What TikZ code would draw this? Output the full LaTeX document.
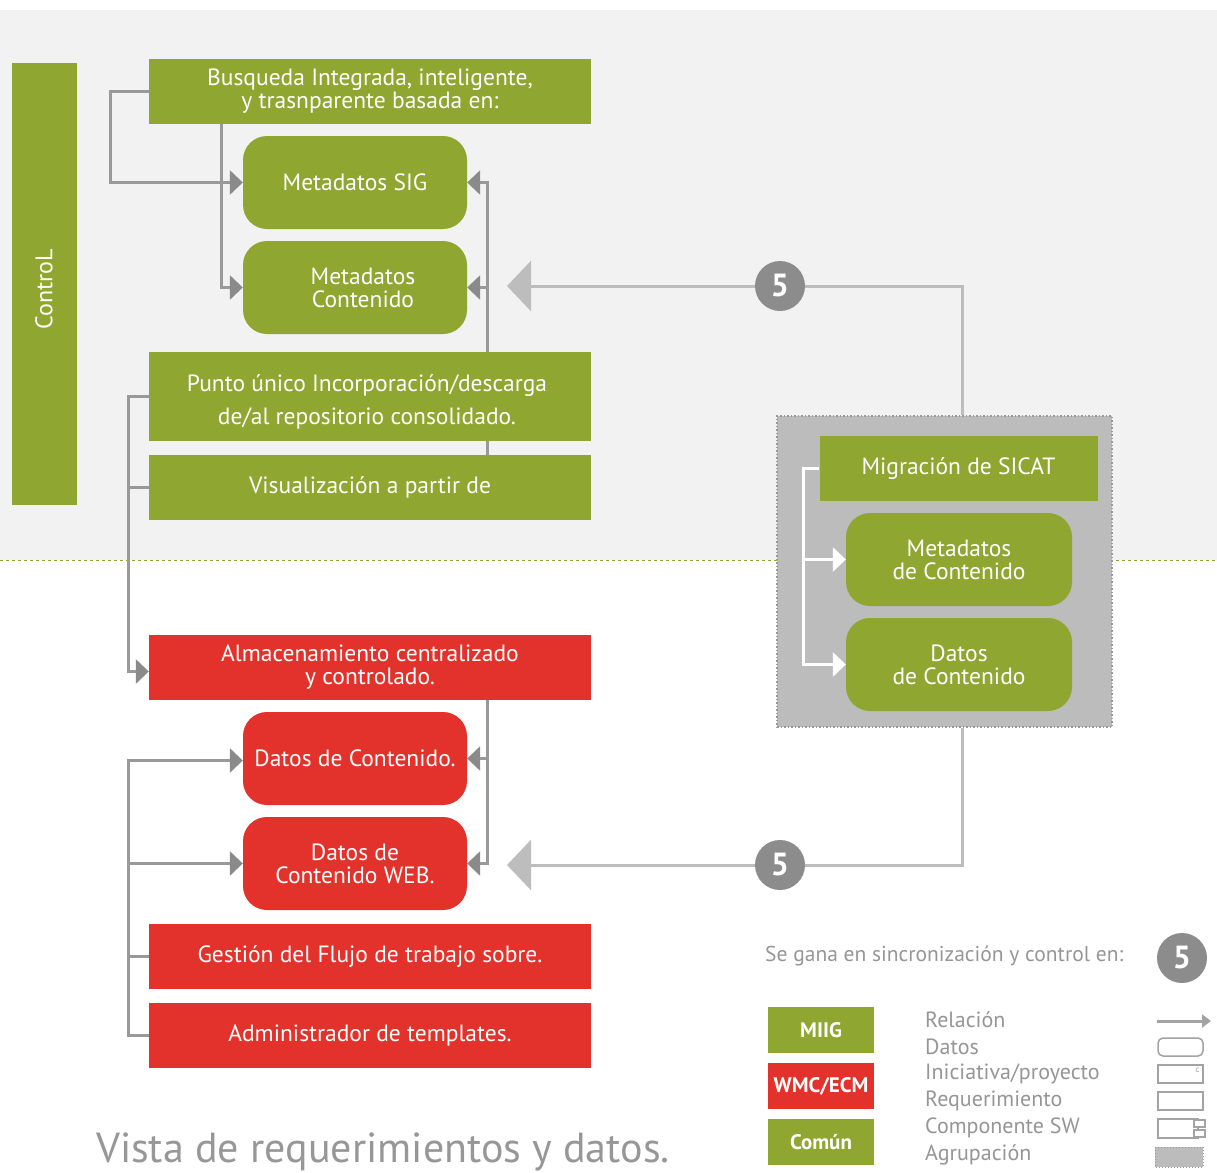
\documentclass[tikz,border=0pt]{standalone}
\usepackage{fontspec}
\setmainfont{PT Sans}
\usetikzlibrary{arrows.meta,calc}
\definecolor{mygreen}{HTML}{8FA731}
\definecolor{myred}{HTML}{E3322B}
\definecolor{bgg}{HTML}{F2F2F2}
\definecolor{conng}{HTML}{999999}
\definecolor{tipg}{HTML}{8A8A8A}
\definecolor{lightg}{HTML}{BDBDBD}
\definecolor{circg}{HTML}{8C8C8C}
\definecolor{grpg}{HTML}{BCBCBC}
\definecolor{txtg}{HTML}{969696}
\pgfdeclarelayer{bg}
\pgfdeclarelayer{conn}
\pgfsetlayers{bg,conn,main}
\newcommand{\fsz}[2]{\fontsize{#1}{#2}\selectfont}
\tikzset{
  box/.style={inner sep=0pt, align=center, text=white, font=\fsz{23.5}{23}},
  gbox/.style={box, fill=mygreen},
  rbox/.style={box, fill=myred},
  rgbox/.style={gbox, rounded corners=24pt},
  rrbox/.style={rbox, rounded corners=24pt},
  connline/.style={draw=conng, line width=3pt},
  darktip/.style={-{Triangle[length=13pt,width=24pt,color=tipg]}},
  whitetip/.style={draw=white, line width=3pt, -{Triangle[length=13pt,width=24pt,color=white]}},
  bigline/.style={draw=lightg, line width=3pt},
  bigtip/.style={-{Triangle[length=24pt,width=50pt,color=lightg]}},
  numcirc/.style={circle, fill=circg, minimum size=50pt, inner sep=0pt, text=white, font=\bfseries\fsz{32}{32}},
  legtxt/.style={inner sep=0pt, anchor=west, text=txtg, font=\fsz{22}{22}},
  legbox/.style={minimum width=106pt, minimum height=46pt, font=\bfseries\fsz{21}{22}},
  icon/.style={draw=circg!80, line width=1.5pt},
}
\begin{document}
\begin{tikzpicture}[x=1pt,y=-1pt]
\useasboundingbox (0,0) rectangle (1217,1172);
\begin{pgfonlayer}{bg}
  \fill[white] (0,0) rectangle (1217,1172);
  \fill[bgg] (0,10) rectangle (1217,560);
  \draw[mygreen, line width=1pt, dash pattern=on 3pt off 3pt] (0,560) -- (1217,560);
\end{pgfonlayer}

% Control bar
\node[gbox, minimum width=65pt, minimum height=442pt] (ctrl) at (44.5,284) {};
\node[text=white, font=\fsz{24}{24}, rotate=90, inner sep=0pt] (ctrltxt) at (44,289) {ControL};

% top green boxes
\node[gbox, minimum width=442pt, minimum height=65pt] (busq) at (370,91.5) {Busqueda Integrada, inteligente,\\ y trasnparente basada en:};
\node[rgbox, minimum width=224pt, minimum height=93pt] (sig) at (355,182.5) {Metadatos SIG};
\node[rgbox, minimum width=224pt, minimum height=93pt] (mc) at (355,287.5) {\hspace*{16pt}Metadatos\\\hspace*{16pt}Contenido};
\node[gbox, minimum width=442pt, minimum height=89pt] (punto) at (370,396.5) {};
\node[box, font=\fsz{23.5}{33}] (puntotxt) at (367,402) {Punto único Incorporación/descarga\\de/al repositorio consolidado.};
\node[gbox, minimum width=442pt, minimum height=65pt] (vis) at (370,487.5) {Visualización a partir de};

% red boxes
\node[rbox, minimum width=442pt, minimum height=65pt] (alm) at (370,667.5) {Almacenamiento centralizado\\y controlado.};
\node[rrbox, minimum width=224pt, minimum height=93pt] (dc) at (355,758.5) {Datos de Contenido.};
\node[rrbox, minimum width=224pt, minimum height=93pt] (web) at (355,863.5) {Datos de\\Contenido WEB.};
\node[rbox, minimum width=442pt, minimum height=65pt] (gest) at (370,956.5) {Gestión del Flujo de trabajo sobre.};
\node[rbox, minimum width=442pt, minimum height=65pt] (adm) at (370,1035.5) {Administrador de templates.};

% grouping
\node[fill=grpg, draw=conng, line width=1.5pt, dotted, minimum width=335pt, minimum height=311pt, inner sep=0pt] (grp) at (944.5,571.5) {};
\node[gbox, minimum width=278pt, minimum height=65pt] (mig) at (958.5,468.5) {Migración de SICAT};
\node[rgbox, minimum width=226pt, minimum height=93pt] (gmc) at (959,559.5) {Metadatos\\de Contenido};
\node[rgbox, minimum width=226pt, minimum height=93pt] (gdc) at (959,664.5) {Datos\\de Contenido};

% numbered circles
\node[numcirc] (c1) at (780,286) {5};
\node[numcirc] (c2) at (780,865) {5};

% coordinates
\coordinate (xl1) at (110,0);
\coordinate (xl2) at (221,0);
\coordinate (xl3) at (128,0);
\coordinate (xr) at (487,0);
\coordinate (xg) at (962,0);
\coordinate (xw) at (803,0);
\coordinate (t1) at (507,286);
\coordinate (t2) at (507,865);

\begin{pgfonlayer}{conn}
  % top left connectors
  \draw[connline, darktip] (busq.west) -| (xl1 |- sig.west) -- (sig.west);
  \draw[connline, darktip] (xl2 |- busq.south) |- (mc.west);
  % top right connector
  \draw[connline, darktip] (vis.north -| xr) |- (sig.east);
  \draw[connline, darktip] (xr |- mc.east) -- (mc.east);
  % left long connector
  \draw[connline] (vis.west) -- (xl3 |- vis.west);
  \draw[connline, darktip] (punto.west) -| ($(xl3 |- alm.west)+(0,4)$) -- ($(alm.west)+(0,4)$);
  % red right connector
  \draw[connline, darktip] (alm.south -| xr) |- (web.east);
  \draw[connline, darktip] (xr |- dc.east) -- (dc.east);
  % red left connector
  \draw[connline, darktip] (adm.west) -| ($(xl3 |- dc.west)+(0,2)$) -- ($(dc.west)+(0,2)$);
  \draw[connline, darktip] (xl3 |- web.west) -- (web.west);
  \draw[connline] (xl3 |- gest.west) -- (gest.west);
  % big light connectors
  \draw[bigline, bigtip] (c1.west) -- (t1);
  \draw[bigline] (c1.east) -| (xg |- grp.north);
  \draw[bigline, bigtip] (c2.west) -- (t2);
  \draw[bigline] (c2.east) -| (xg |- grp.south);
\end{pgfonlayer}

% white connectors inside grouping
\draw[whitetip] (mig.west) -| (xw |- gdc.west) -- (gdc.west);
\draw[whitetip] (xw |- gmc.west) -- (gmc.west);

% legend
\node[legtxt, font=\fsz{21.5}{22}] (sgtxt) at (765,956) {Se gana en sincronización y control en:};
\node[numcirc] (c3) at (1182,958) {5};
\node[gbox, legbox] (miig) at (821,1030) {MIIG};
\node[rbox, legbox] (wmc) at (821,1086) {WMC/ECM};
\node[gbox, legbox] (comun) at (821,1142) {Común};
\node[legtxt] (l1) at (925,1020) {Relación};
\node[legtxt] (l2) at (925,1047) {Datos};
\node[legtxt] (l3) at (925,1074) {Iniciativa/proyecto};
\node[legtxt] (l4) at (925,1101) {Requerimiento};
\node[legtxt] (l5) at (925,1128) {Componente SW};
\node[legtxt] (l6) at (925,1155) {Agrupación};
% legend icons
\draw[icon, line width=3pt, -{Triangle[length=9pt,width=13pt]}] (1157,1021) -- (1211,1021);
\draw[icon, rounded corners=5pt] (1158,1038) rectangle (1203,1056);
\draw[icon] (1158,1065) rectangle (1203,1083);
\draw[draw=circg!60, line width=0.8pt] (1199,1068) arc (60:300:2pt);
\draw[icon] (1158,1092) rectangle (1203,1110);
\draw[icon] (1158,1119) rectangle (1198,1138);
\draw[icon, fill=white] (1194,1120) rectangle (1205,1127);
\draw[icon, fill=white] (1194,1130) rectangle (1205,1137);
\draw[fill=grpg, draw=conng, line width=1pt, dotted] (1155,1147) rectangle (1203,1167);

% title
\node[inner sep=0pt, anchor=base west, text=circg!90, font=\fsz{42}{42}] (title) at (96,1162) {Vista de requerimientos y datos.};
\end{tikzpicture}
\end{document}
